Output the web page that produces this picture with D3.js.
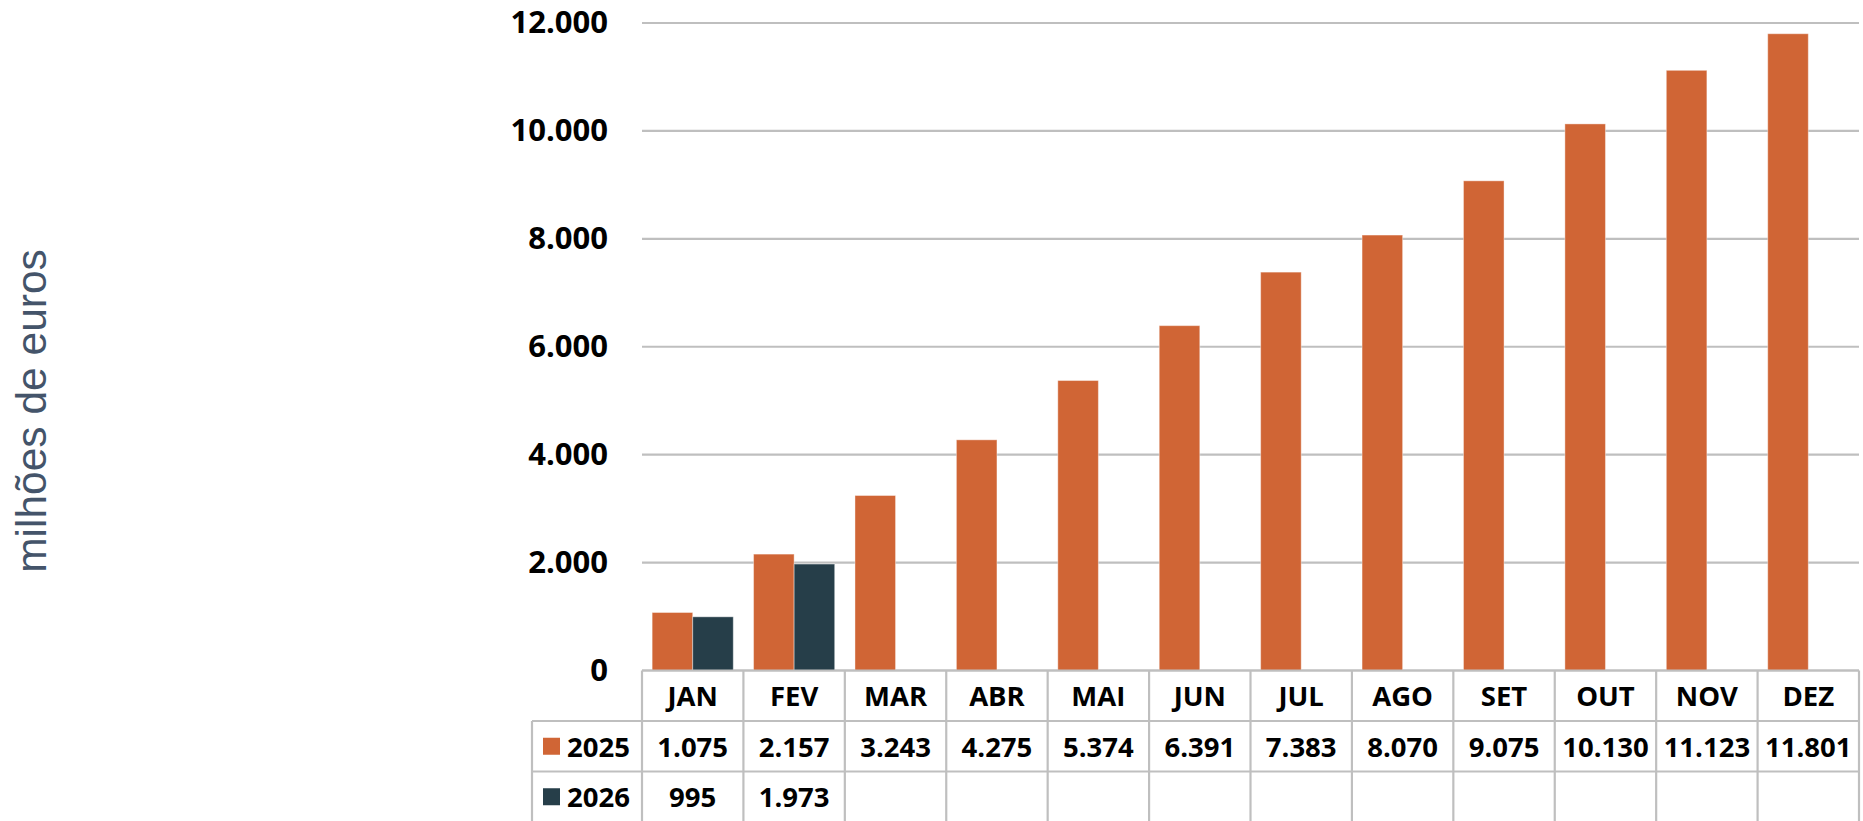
<!DOCTYPE html>
<html>
<head>
<meta charset="utf-8">
<script src="https://cdn.jsdelivr.net/npm/d3@7"></script>
<style>
  body { margin: 0; background: #fff; }
  svg { display: block; }
</style>
</head>
<body>
<script>
// dados
const meses = ["JAN", "FEV", "MAR", "ABR", "MAI", "JUN", "JUL", "AGO", "SET", "OUT", "NOV", "DEZ"];
const anos = ["2025", "2026"];
const valores2025 = [1075, 2157, 3243, 4275, 5374, 6391, 7383, 8070, 9075, 10130, 11123, 11801];
const valores2026 = [995, 1973];
const ticksY = [0, 2000, 4000, 6000, 8000, 10000, 12000];
const cores = { "2025": "#D06535", "2026": "#263E49" };

const W = 1863, H = 821;
const plotLeft = 642, plotRight = 1859, plotTop = 23, zero = 670.5;
const rowH = 50.5, legendLeft = 532;
const lineColor = "#bfbfbf";

const pt = d3.formatLocale({ decimal: ",", thousands: ".", grouping: [3], currency: ["", " €"] });
const fmt = pt.format(",d");

const svg = d3.select("body").append("svg")
    .attr("width", W)
    .attr("height", H);

const x0 = d3.scaleBand().domain(meses).range([plotLeft, plotRight]);
const x1 = d3.scaleBand().domain(anos).range([0, x0.bandwidth()]).paddingOuter(0.25);
const y = d3.scaleLinear().domain([0, 12000]).range([zero, plotTop]);

// Grelha
svg.append("g")
    .selectAll("line")
    .data(ticksY)
    .join("line")
    .attr("x1", plotLeft)
    .attr("x2", plotRight)
    .attr("y1", d => y(d))
    .attr("y2", d => y(d))
    .attr("stroke", lineColor)
    .attr("stroke-width", 2.2);

// Eixo Y
const eixo = svg.append("g")
    .attr("transform", `translate(${plotLeft - 34},0)`)
    .call(d3.axisLeft(y).tickValues(ticksY).tickFormat(fmt).tickSize(0).tickPadding(0));
eixo.select(".domain").remove();
eixo.selectAll("text")
    .attr("font-family", "'Open Sans', sans-serif")
    .attr("font-weight", 700)
    .attr("font-size", 31)
    .attr("fill", "#000");

// Titulo do eixo
svg.append("text")
    .attr("transform", `translate(46,411) rotate(-90)`)
    .attr("text-anchor", "middle")
    .attr("font-family", "'Liberation Sans', Arial, sans-serif")
    .attr("font-size", 42.5)
    .attr("fill", "#44546A")
    .text("milhões de euros");

// Barras
const series = [
  { ano: "2025", valores: valores2025 },
  { ano: "2026", valores: valores2026 }
];
series.forEach(s => {
  svg.append("g")
    .selectAll("rect")
    .data(s.valores.map((v, i) => ({ mes: meses[i], v })))
    .join("rect")
    .attr("x", d => x0(d.mes) + x1(s.ano))
    .attr("y", d => y(d.v))
    .attr("width", x1.bandwidth())
    .attr("height", d => zero - y(d.v))
    .attr("fill", cores[s.ano])
    .attr("stroke", "#ffffff")
    .attr("stroke-opacity", 0.4)
    .attr("stroke-width", 1);
});

// Tabela
const tabela = svg.append("g");
const rowTop = i => zero + rowH * i;

// linhas horizontais
tabela.append("line")
    .attr("x1", plotLeft).attr("x2", plotRight)
    .attr("y1", rowTop(0)).attr("y2", rowTop(0))
    .attr("stroke", lineColor).attr("stroke-width", 2.2);
[1, 2, 3].forEach(i => {
  tabela.append("line")
    .attr("x1", legendLeft).attr("x2", plotRight)
    .attr("y1", rowTop(i)).attr("y2", rowTop(i))
    .attr("stroke", lineColor).attr("stroke-width", 2.2);
});

// linhas verticais
tabela.append("line")
    .attr("x1", legendLeft).attr("x2", legendLeft)
    .attr("y1", rowTop(1)).attr("y2", rowTop(3))
    .attr("stroke", lineColor).attr("stroke-width", 2.2);
tabela.selectAll(".col")
    .data(meses.map(m => x0(m)).concat([plotRight]))
    .join("line")
    .attr("x1", d => d).attr("x2", d => d)
    .attr("y1", rowTop(0)).attr("y2", rowTop(3))
    .attr("stroke", lineColor).attr("stroke-width", 2.2);

const estiloTexto = sel => sel
    .attr("font-family", "'Open Sans', sans-serif")
    .attr("font-weight", 700)
    .attr("font-size", 27.5)
    .attr("fill", "#000")
    .attr("dominant-baseline", "central");

// cabecalho dos meses
tabela.selectAll(".mes")
    .data(meses)
    .join("text")
    .attr("x", d => x0(d) + x0.bandwidth() / 2)
    .attr("y", rowTop(0) + rowH / 2)
    .attr("text-anchor", "middle")
    .call(estiloTexto)
    .text(d => d);

// linhas de valores
series.forEach((s, r) => {
  const cy = rowTop(r + 1) + rowH / 2;
  tabela.append("rect")
    .attr("x", 543).attr("y", cy - 8.5)
    .attr("width", 17).attr("height", 17)
    .attr("fill", cores[s.ano]);
  tabela.append("text")
    .attr("x", 567).attr("y", cy)
    .call(estiloTexto)
    .text(s.ano);
  tabela.append("g")
    .selectAll("text")
    .data(s.valores.map((v, i) => ({ mes: meses[i], v })))
    .join("text")
    .attr("x", d => x0(d.mes) + x0.bandwidth() / 2)
    .attr("y", cy)
    .attr("text-anchor", "middle")
    .call(estiloTexto)
    .text(d => fmt(d.v));
});
</script>
</body>
</html>
